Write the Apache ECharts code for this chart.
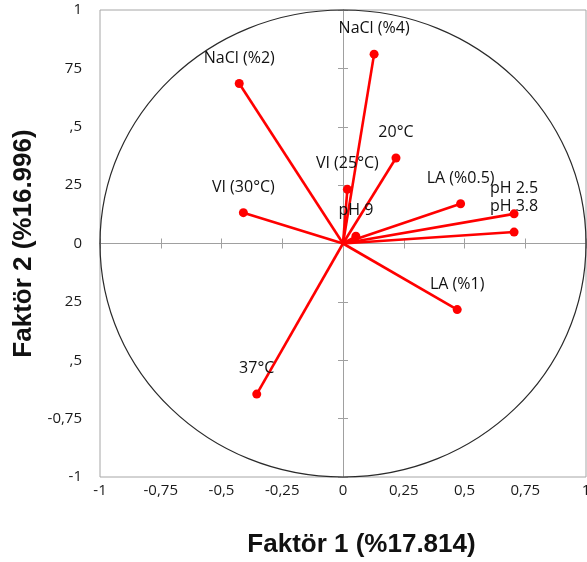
<!DOCTYPE html>
<html>
<head>
<meta charset="utf-8">
<script src="https://cdn.jsdelivr.net/npm/echarts@6/dist/echarts.min.js"></script>
<style>
html,body{margin:0;padding:0;background:#fff;}
#chart{width:587px;height:562px;}
</style>
</head>
<body>
<div id="chart"></div>
<script>
// ---- data ----
const variableNames = ["NaCl (%4)", "NaCl (%2)", "20°C", "VI (25°C)", "VI (30°C)", "pH 9", "LA (%0.5)", "pH 2.5", "pH 3.8", "LA (%1)", "37°C"];
const factor1 = [0.128, -0.427, 0.218, 0.018, -0.410, 0.053, 0.484, 0.704, 0.704, 0.470, -0.355];
const factor2 = [0.811, 0.685, 0.366, 0.232, 0.132, 0.031, 0.170, 0.127, 0.049, -0.283, -0.645];
const xTickValues = [-1, -0.75, -0.5, -0.25, 0, 0.25, 0.5, 0.75, 1];
const xTickTexts = ["-1", "-0,75", "-0,5", "-0,25", "0", "0,25", "0,5", "0,75", "1"];
const yTickValues = [-1, -0.75, -0.5, -0.25, 0, 0.25, 0.5, 0.75, 1];
const yTickTexts = ["-1", "-0,75", ",5", "25", "0", "25", ",5", "75", "1"];
const circleRadius = 1;
const xTitle = "Faktör 1 (%17.814)";
const yTitle = "Faktör 2 (%16.996)";

function lookup(vals, texts, v) {
  for (let i = 0; i < vals.length; i++) if (Math.abs(vals[i] - v) < 1e-9) return texts[i];
  return '';
}

const chart = echarts.init(document.getElementById('chart'), null, {renderer: 'canvas'});

const baseAxis = {type: 'value', min: -1, max: 1, interval: 0.25, splitLine: {show: false}};
const zeroLine = {show: true, onZero: true, onZeroAxisIndex: 0, lineStyle: {color: '#a0a0a0', width: 1}};
const tickOut = {show: true, inside: false, length: 5, lineStyle: {color: '#a0a0a0', width: 1}};

const option = {
  animation: false,
  backgroundColor: '#ffffff',
  grid: {left: 100, top: 10, right: 1, bottom: 85, show: true, borderColor: '#a6a6a6', borderWidth: 1, containLabel: false, outerBoundsMode: 'none'},
  xAxis: [
    Object.assign({}, baseAxis, {
      position: 'bottom',
      axisLine: {show: false, onZero: false},
      axisTick: {show: false},
      axisLabel: {show: true, margin: 6, fontFamily: 'Open Sans', fontSize: 15, color: '#1a1a1a',
        formatter: v => lookup(xTickValues, xTickTexts, v)},
      name: xTitle, nameLocation: 'middle', nameGap: 55,
      nameTextStyle: {fontFamily: 'Liberation Sans', fontWeight: 'bold', fontSize: 26, color: '#111', padding: [0, 0, 0, 37]}
    }),
    Object.assign({}, baseAxis, {position: 'bottom', axisLine: zeroLine, axisTick: tickOut, axisLabel: {show: false}}),
    Object.assign({}, baseAxis, {position: 'top', axisLine: zeroLine, axisTick: tickOut, axisLabel: {show: false}})
  ],
  yAxis: [
    Object.assign({}, baseAxis, {
      position: 'left',
      axisLine: {show: false, onZero: false},
      axisTick: {show: false},
      axisLabel: {show: true, margin: 18, fontFamily: 'Open Sans', fontSize: 15, color: '#1a1a1a',
        formatter: v => lookup(yTickValues, yTickTexts, v)},
      name: yTitle, nameLocation: 'middle', nameGap: 52,
      nameTextStyle: {fontFamily: 'Liberation Sans', fontWeight: 'bold', fontSize: 26, color: '#111'}
    }),
    Object.assign({}, baseAxis, {position: 'left', axisLine: zeroLine, axisTick: tickOut, axisLabel: {show: false}}),
    Object.assign({}, baseAxis, {position: 'right', axisLine: zeroLine, axisTick: tickOut, axisLabel: {show: false}})
  ],
  series: [
    {
      type: 'custom',
      xAxisIndex: 0, yAxisIndex: 0,
      clip: false,
      silent: true,
      data: [[0, 0]],
      renderItem: function (params, api) {
        const c = api.coord([api.value(0), api.value(1)]);
        const s = api.size([circleRadius, circleRadius]);
        return {type: 'ellipse', shape: {cx: c[0], cy: c[1], rx: s[0], ry: s[1]},
          style: {fill: 'none', stroke: '#2a2a2a', lineWidth: 1.2}};
      },
      z: 1
    },
    {
      type: 'lines',
      coordinateSystem: 'cartesian2d',
      xAxisIndex: 0, yAxisIndex: 0,
      data: variableNames.map((n, i) => ({coords: [[0, 0], [factor1[i], factor2[i]]]})),
      lineStyle: {color: '#ff0000', width: 2.6, opacity: 1},
      z: 3
    },
    {
      type: 'scatter',
      xAxisIndex: 0, yAxisIndex: 0,
      data: variableNames.map((n, i) => ({name: n, value: [factor1[i], factor2[i]]})),
      symbol: 'circle', symbolSize: 9,
      itemStyle: {color: '#ff0000', opacity: 1},
      label: {show: true, position: 'top', distance: 13, formatter: p => p.name,
        fontFamily: 'Open Sans', fontSize: 16, color: '#111111'},
      z: 4
    }
  ]
};
chart.setOption(option);
</script>
</body>
</html>
